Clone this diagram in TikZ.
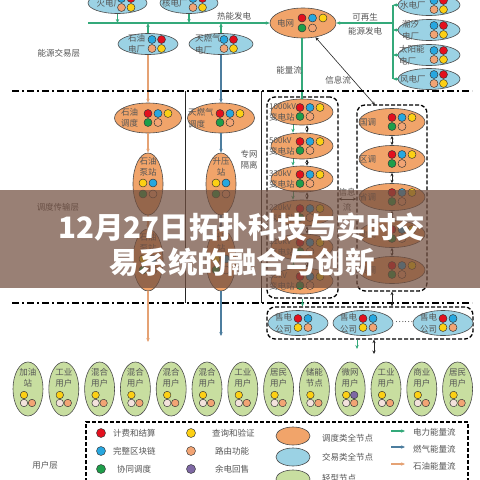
\documentclass[tikz,border=0pt]{standalone}
\usepackage{fontspec}
\newfontfamily\cjk{Noto Sans CJK SC}
\usetikzlibrary{shapes.geometric,arrows.meta}
\pgfdeclarelayer{bg}
\pgfsetlayers{bg,main}
\definecolor{orgF}{HTML}{F1A46A}
\definecolor{bluF}{HTML}{9BD2E4}
\definecolor{grnF}{HTML}{C8DEA0}
\definecolor{dRed}{HTML}{E3101E}
\definecolor{dBlue}{HTML}{27A7DF}
\definecolor{dYel}{HTML}{FCD014}
\definecolor{dGrn}{HTML}{1E9E4A}
\definecolor{dOrg}{HTML}{F2A474}
\definecolor{dPur}{HTML}{7E68A4}
\definecolor{dWht}{HTML}{F3E2DC}
\definecolor{lnG}{HTML}{34A97A}
\definecolor{lnB}{HTML}{4C7D9E}
\definecolor{lnO}{HTML}{E5A274}
\definecolor{txt}{HTML}{555555}
\definecolor{bann}{RGB}{114,79,64}
\tikzset{
  el/.style={ellipse, draw=black!70, line width=0.6pt, inner sep=0pt},
  oN/.style={el, fill=orgF},
  bN/.style={el, fill=bluF},
  gN/.style={el, fill=grnF},
  dt/.style={circle, draw=black!80, line width=0.45pt, inner sep=0pt, minimum size=8pt},
  lb/.style={font=\cjk\fontsize{8.5}{11.5}\selectfont, text=txt, inner sep=0pt},
  lbw/.style={lb, anchor=west, align=left},
  lbc/.style={lb, align=center},
  tip/.style={-{Stealth[length=4pt,width=3.4pt]}},
  dtip/.style={{Stealth[length=3.5pt,width=3.2pt]}-{Stealth[length=3.5pt,width=3.2pt]}},
  gl/.style={draw=lnG, line width=1.1pt},
  bl/.style={draw=lnB, line width=1.1pt},
  ol/.style={draw=lnO, line width=1.1pt},
  kl/.style={draw=black!85, line width=0.6pt},
  dashdot/.style={line width=1.6pt, dash pattern=on 7pt off 3pt on 2pt off 3pt},
  dbox/.style={rectangle, draw, line width=1.3pt, dash pattern=on 4pt off 2pt, rounded corners=8pt, inner sep=0pt},
}
% trade node: name,x,y,w,label,textdx,dotdx
\newcommand\TNode[7]{%
  \node[bN, minimum width=#4pt, minimum height=21pt] (#1) at (#2,#3) {};
  \node[lbw] (#1-t) at ([xshift=#6pt]#1.center) {#5};
  \node[dt, fill=dBlue] (#1-a) at ([xshift=#7pt, yshift=4.5pt]#1.center) {};
  \node[dt, fill=dRed] (#1-b) at ([xshift=#7pt+9.5pt, yshift=4.5pt]#1.center) {};
  \node[dt, fill=dOrg] (#1-c) at ([xshift=#7pt, yshift=-4.5pt]#1.center) {};
  \node[dt, fill=dYel] (#1-d) at ([xshift=#7pt+9.5pt, yshift=-4.5pt]#1.center) {};
}
% dispatch node: name,x,y,w,h,label,textdx,dotdx
\newcommand\DNode[8]{%
  \node[oN, minimum width=#4pt, minimum height=#5pt] (#1) at (#2,#3) {};
  \node[lbw] (#1-t) at ([xshift=#7pt]#1.center) {#6};
  \node[dt, fill=dRed] (#1-a) at ([xshift=#8pt, yshift=4.5pt]#1.center) {};
  \node[dt, fill=dBlue] (#1-b) at ([xshift=#8pt+10pt, yshift=4.5pt]#1.center) {};
  \node[dt, fill=dYel] (#1-c) at ([xshift=#8pt+20pt, yshift=4.5pt]#1.center) {};
  \node[dt, fill=dGrn] (#1-d) at ([xshift=#8pt, yshift=-4.5pt]#1.center) {};
  \node[dt, fill=dOrg] (#1-e) at ([xshift=#8pt+10pt, yshift=-4.5pt]#1.center) {};
}
% vertical dispatch node: name,x,y,label
\newcommand\VNode[4]{%
  \node[oN, minimum width=30pt, minimum height=62pt] (#1) at (#2,#3) {};
  \node[lbc] (#1-t) at ([yshift=17pt]#1.center) {#4};
  \node[dt, fill=dYel] (#1-a) at ([xshift=-5pt,yshift=1pt]#1.center) {};
  \node[dt, fill=dBlue] (#1-b) at ([xshift=5pt,yshift=1pt]#1.center) {};
  \node[dt, fill=dGrn] (#1-c) at ([xshift=-5pt,yshift=-10pt]#1.center) {};
  \node[dt, fill=dOrg] (#1-d) at ([xshift=5pt,yshift=-10pt]#1.center) {};
}
% sales node: name,x,y
\newcommand\SNode[3]{%
  \node[bN, minimum width=60pt, minimum height=25pt] (#1) at (#2,#3) {};
  \node[lbw] (#1-t) at ([xshift=-23pt]#1.center) {售电\\公司};
  \node[dt, fill=dRed] (#1-a) at ([xshift=0pt,yshift=4.5pt]#1.center) {};
  \node[dt, fill=dBlue] (#1-b) at ([xshift=10pt,yshift=4.5pt]#1.center) {};
  \node[dt, fill=dYel] (#1-c) at ([xshift=0pt,yshift=-4.5pt]#1.center) {};
  \node[dt, fill=dOrg] (#1-d) at ([xshift=10pt,yshift=-4.5pt]#1.center) {};
}
% user node: name,x,label,extra
\newcommand\UNode[4]{%
  \node[gN, minimum width=30pt, minimum height=54pt] (#1) at (#2,389) {};
  \node[lbc] (#1-t) at ([yshift=11pt]#1.center) {#3};
  \node[dt, minimum size=7.5pt, fill=dYel] (#1-a) at ([xshift=-4pt,yshift=-6pt]#1.center) {};
  \node[dt, minimum size=7.5pt, fill=dWht] (#1-b) at ([xshift=-4pt,yshift=-14pt]#1.center) {};
  \node[dt, minimum size=7.5pt, fill=dOrg] (#1-c) at ([xshift=4pt,yshift=-14pt]#1.center) {};
  #4
}
\begin{document}
\begin{tikzpicture}[x=1pt,y=-1pt]
\useasboundingbox (0,0) rectangle (480,480);
\clip (0,0) rectangle (480,480);
\fill[white] (0,0) rectangle (480,480);

% ---------- energy trading layer ----------
\TNode{hd}{117.5}{3}{59}{火电厂}{-21}{4}
\TNode{hed}{189}{3}{58}{核电厂}{-27}{4}
\TNode{sy}{148}{44}{60}{石油\\电厂}{-20}{4}
\TNode{tr}{221}{44}{64}{天燃气\\电厂}{-26}{3}
\TNode{sd}{429}{5}{62}{水电厂}{-29}{5}
\TNode{cx}{429}{30}{62}{潮汐\\电厂}{-27}{5}
\TNode{ty}{429}{55}{62}{太阳能\\电厂}{-30}{5}
\TNode{fd}{429}{79}{62}{风电厂}{-29}{5}

\node[oN, minimum width=66pt, minimum height=30pt] (grid) at (303,23) {};
\node[lbw] (grid-t) at ([xshift=-26pt]grid.center) {电网};
\node[dt, fill=dRed] (grid-a) at ([xshift=-1pt,yshift=5pt]grid.center) {};
\node[dt, fill=dBlue] (grid-b) at ([xshift=9.5pt,yshift=5pt]grid.center) {};
\node[dt, fill=dYel] (grid-c) at ([xshift=20pt,yshift=5pt]grid.center) {};
\node[dt, fill=dGrn] (grid-d) at ([xshift=-1pt,yshift=-5pt]grid.center) {};
\node[dt, fill=dOrg] (grid-e) at ([xshift=9.5pt,yshift=-5pt]grid.center) {};

% thermal bus
\coordinate (busL) at (88,23);
\draw[gl, tip] (busL) -- (grid.west);
\draw[gl, tip] (hd.south) -- (hd.south |- busL);
\draw[gl, tip] (hed.south) -- (hed.south |- busL);
\draw[gl, tip] (sy.north) -- (sy.north |- busL);
\draw[gl, tip] (tr.north) -- (tr.north |- busL);
\node[lb] (rn) at (234,16) {热能发电};

% renewable bus
\coordinate (busR1) at (393,5);
\coordinate (busR2) at (393,79);
\coordinate (busRm) at (393,23);
\draw[gl] (busR1) -- (busR2);
\draw[gl, tip] (busRm) -- (grid.east);
\foreach \n in {sd,cx,ty,fd}{\draw[gl, tip] (\n.west) -- (\n.west -| busR1);}
\node[lb] (kz1) at (365,17) {可再生};
\node[lb] (kz2) at (365,31) {能源发电};

\node[lb] (lyr1) at (59,53) {能源交易层};

% ---------- dispatch transmission layer ----------
\DNode{syd}{148}{118}{67}{30}{石油\\调度}{-27}{0}
\DNode{trd}{221}{118}{67}{30}{天燃气\\调度}{-33}{-1}
\VNode{bz1}{148}{184}{石油\\泵站}
\VNode{bz2}{148}{260}{石油\\泵站}
\VNode{sz1}{221}{184}{升压\\站}
\VNode{sz2}{221}{260}{升压\\站}

\draw[ol, tip] (sy.south) -- (syd.north);
\draw[bl, tip] (tr.south) -- (trd.north);
\draw[ol, tip] (syd.south) -- (bz1.north);
\draw[bl, tip] (trd.south) -- (sz1.north);
\draw[ol, tip] (bz1.south) -- (bz2.north);
\draw[bl, tip] (sz1.south) -- (sz2.north);

\draw[kl] (185,91) -- (185,303);
\draw[kl] (261,91) -- (261,303);
\node[lbc] (zw) at (249,160) {专网\\隔离};
\node[lb] (lyr2) at (58,207) {调度传输层};

% substations
\node[dbox, minimum width=71pt, minimum height=201pt] (box1) at (302.5,197.5) {};
\DNode{s1}{302}{112}{62}{26}{\fontsize{8}{11.5}\selectfont 1000kV\\变电站}{-33}{-2}
\DNode{s2}{302}{146}{62}{26}{\fontsize{8}{11.5}\selectfont 500kV\\变电站}{-33}{-2}
\DNode{s3}{302}{179}{62}{26}{\fontsize{8}{11.5}\selectfont 330kV\\变电站}{-33}{-2}
\DNode{s4}{302}{213}{62}{26}{\fontsize{8}{11.5}\selectfont 220kV\\变电站}{-33}{-2}
\DNode{s5}{302}{247}{62}{26}{\fontsize{8}{11.5}\selectfont 110kV\\变电站}{-33}{-2}
\DNode{s6}{302}{281}{62}{26}{\fontsize{8}{11.5}\selectfont 35kV\\变电站}{-33}{-2}
\foreach \a/\b in {s1/s2,s2/s3,s3/s4,s4/s5,s5/s6}{
  \draw[gl, tip, line width=0.9pt] ([xshift=-9pt]\a.south) -- ([xshift=-9pt]\b.north);
  \draw[kl, dtip] ([xshift=5pt]\a.south) -- ([xshift=5pt]\b.north);
}
\draw[gl] (grid.south -| s1.north) -- (s1.north);

% dispatch centres
\node[dbox, minimum width=70pt, minimum height=186pt] (box2) at (392,198) {};
\DNode{g1}{392}{122}{66}{27}{国调}{-33}{0}
\DNode{g2}{392}{159}{66}{27}{区调}{-33}{0}
\DNode{g3}{392}{197}{66}{27}{省调}{-33}{0}
\DNode{g4}{392}{234}{66}{27}{地调}{-33}{0}
\DNode{g5}{392}{270}{66}{27}{县调}{-33}{0}
\foreach \a/\b in {g1/g2,g2/g3,g3/g4,g4/g5}{
  \draw[kl, dtip] (\a.south) -- (\b.north);
}
\coordinate (ic) at (375,105);
\draw[kl, dtip] (ic) -- (grid);
\node[lb] (nl) at (289,70) {能量流};
\node[lb] (xl) at (338,80) {信息流};
\draw[kl, dtip] (box1.east |- 0,199) -- (box2.west |- 0,199);
\node[lb] (xx1) at (347,192) {信息};
\node[lb] (xx2) at (347,207) {流};

% dash-dot separators
\draw[dashdot] (12,91) -- (472,91);
\draw[dashdot] (12,303) -- (472,303);

% ---------- sales companies ----------
\node[dbox, minimum width=206pt, minimum height=32pt] (box3) at (370,323) {};
\SNode{c1}{298}{323}
\SNode{c2}{363}{323}
\SNode{c3}{443}{323}
\node[lb] (dots) at (404,322) {……};
\draw[gl, tip, line width=0.9pt] (box1.south) -- (box1.south |- box3.north);
\draw[kl, dtip] (box2.south) -- (box2.south |- box3.north);

% ---------- user layer ----------
\UNode{u1}{28}{加油\\站}{}
\UNode{u2}{63.8}{工业\\用户}{}
\UNode{u3}{99.6}{混合\\用户}{}
\UNode{u4}{135.4}{混合\\用户}{}
\UNode{u5}{171.2}{混合\\用户}{}
\UNode{u6}{207}{混合\\用户}{}
\UNode{u7}{242.8}{工业\\用户}{}
\UNode{u8}{278.6}{居民\\用户}{}
\UNode{u9}{314.4}{储能\\节点}{}
\UNode{u10}{350.2}{微网\\用户}{\node[dt, minimum size=7.5pt, fill=dPur] (u10-p) at ([xshift=4pt,yshift=-6pt]u10.center) {};}
\UNode{u11}{386}{工业\\用户}{}
\UNode{u12}{421.8}{商业\\用户}{}
\UNode{u13}{457.6}{居民\\用户}{}

\coordinate (bO) at (0,342);
\coordinate (bB) at (0,336);
\coordinate (bG) at (0,349);
\coordinate (bK) at (0,354);
\begin{pgfonlayer}{bg}
  \draw[ol] ([xshift=-5pt]u1.center |- bO) -- ([xshift=-5pt]u5.center |- bO);
  \foreach \i in {1,...,5}{\draw[ol] ([xshift=-5pt]u\i.center |- bO) -- ([xshift=-5pt]u\i.center);}
  \draw[bl] ([xshift=5pt]u3.center |- bB) -- ([xshift=5pt]u7.center |- bB);
  \foreach \i in {3,5,6,7}{\draw[bl] ([xshift=5pt]u\i.center |- bB) -- ([xshift=5pt]u\i.center);}
  \draw[gl] (u4.center |- bG) -- (u13.center |- bG);
  \foreach \i in {4,...,13}{\draw[gl] (u\i.center |- bG) -- (u\i.center);}
  \draw[kl, line width=0.9pt] ([xshift=5pt]u4.center |- bK) -- ([xshift=5pt]u13.center |- bK);
  \foreach \i in {4,8,9,10,11,12,13}{\draw[kl, line width=0.9pt] ([xshift=5pt]u\i.center |- bK) -- ([xshift=5pt]u\i.center);}
  \foreach \i in {5,6,7}{\draw[kl, line width=0.9pt] ([xshift=9pt]u\i.center |- bK) -- ([xshift=9pt]u\i.center);}
\end{pgfonlayer}
\draw[ol, tip] (bz2.south) -- (bz2.south |- bO);
\draw[bl, tip] (sz2.south) -- (sz2.south |- bB);
\draw[gl, tip, line width=0.9pt] (box3.south -| 357,0) -- (bG -| 357,0);
\draw[kl, dtip] (box3.south -| 374,0) -- (bK -| 374,0);

\node[lb] (lyr3) at (45,465) {用户层};

% ---------- legend ----------
\draw[line width=1.3pt, dash pattern=on 4pt off 2pt] (86,500) -- (86,422) -- (468,422) -- (468,500);
\node[dt, minimum size=9pt, fill=dRed] (lg1) at (101,433) {};
\node[dt, minimum size=9pt, fill=dBlue] (lg2) at (101,451) {};
\node[dt, minimum size=9pt, fill=dGrn] (lg3) at (101,469) {};
\node[lbw] (lt1) at (113,433) {计费和结算};
\node[lbw] (lt2) at (113,451) {完整区块链};
\node[lbw] (lt3) at (117,469) {协同调度};
\node[dt, minimum size=9pt, fill=dYel] (lg4) at (191,433) {};
\node[dt, minimum size=9pt, fill=dOrg] (lg5) at (191,451) {};
\node[dt, minimum size=9pt, fill=dPur] (lg6) at (191,469) {};
\node[lbw] (lt4) at (212,433) {查询和验证};
\node[lbw] (lt5) at (215,451) {路由功能};
\node[lbw] (lt6) at (215,469) {余电回售};
\node[oN, minimum width=34pt, minimum height=18pt] (le1) at (293,436) {};
\node[bN, minimum width=34pt, minimum height=18pt] (le2) at (293,457) {};
\node[gN, minimum width=34pt, minimum height=18pt] (le3) at (293,479) {};
\node[lbw] (lt7) at (322,438) {调度类全节点};
\node[lbw] (lt8) at (322,457) {交易类全节点};
\node[lbw] (lt9) at (322,478) {轻型节点};
\coordinate (la1) at (391,431); \coordinate (la1e) at (405,431);
\coordinate (la2) at (391,447); \coordinate (la2e) at (405,447);
\coordinate (la3) at (391,464); \coordinate (la3e) at (405,464);
\draw[gl, tip] (la1) -- (la1e);
\draw[bl, tip] (la2) -- (la2e);
\draw[ol, tip] (la3) -- (la3e);
\node[lbw] (lt10) at (413,432) {电力能量流};
\node[lbw] (lt11) at (413,449) {燃气能量流};
\node[lbw] (lt12) at (413,466) {石油能量流};

% ---------- banner ----------
\fill[bann, opacity=0.72] (0,190) rectangle (480,288);
\node[font=\cjk\bfseries\fontsize{29.5}{35}\selectfont, text=white, align=center, inner sep=0pt] (ban) at (242,244.5) {12月27日拓扑科技与实时交\\易系统的融合与创新};
\end{tikzpicture}
\end{document}
